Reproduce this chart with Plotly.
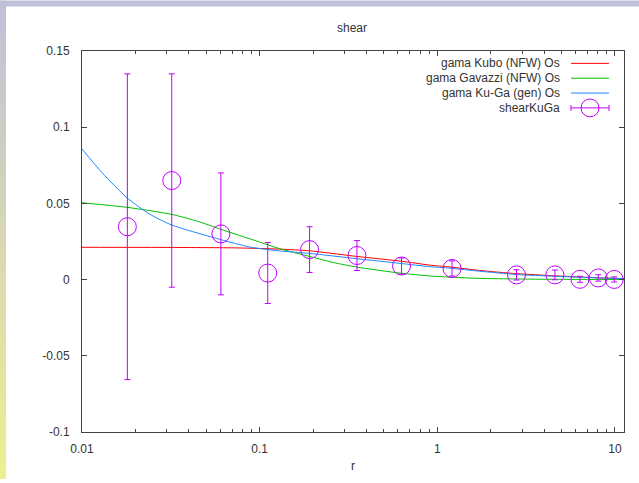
import plotly.graph_objects as go

# ---------------- data ----------------
r_kubo = [0.01, 0.032, 0.0742, 0.1296, 0.191, 0.353, 0.623, 0.907, 1.175, 1.734, 2.8, 4.59, 8.23, 11.2]
g_kubo = [0.0212, 0.0211, 0.0208, 0.0200, 0.0189, 0.0152, 0.0121, 0.0095, 0.0083, 0.0060, 0.0039, 0.0025, 0.0011, 0.0006]

r_gav = [0.01, 0.018, 0.032, 0.045, 0.0605, 0.0878, 0.1296, 0.191, 0.26, 0.353, 0.623, 0.907, 1.175, 1.734, 2.8, 4.59, 11.2]
g_gav = [0.0504, 0.0474, 0.0428, 0.0382, 0.0330, 0.0268, 0.0203, 0.0152, 0.0112, 0.0082, 0.0042, 0.0024, 0.0016, 0.0008, 0.0004, 0.0002, 0.0001]

r_kuga = [0.01, 0.013, 0.018, 0.024, 0.032, 0.0605, 0.0878, 0.1296, 0.191, 0.353, 0.623, 0.907, 1.175, 1.734, 2.8, 4.59, 8.23, 11.2]
g_kuga = [0.0857, 0.0700, 0.0535, 0.0430, 0.0358, 0.0262, 0.0214, 0.0188, 0.0172, 0.0137, 0.0106, 0.0085, 0.0075, 0.0055, 0.0033, 0.0022, 0.0011, 0.0007]

r_obs = [0.018, 0.032, 0.0605, 0.111, 0.191, 0.353, 0.629, 1.21, 2.79, 4.59, 6.35, 8.05, 9.9]
g_obs = [0.0347, 0.065, 0.030, 0.0043, 0.0197, 0.0158, 0.0089, 0.0073, 0.0031, 0.0031, 0.0002, 0.0011, 0.0001]
e_obs = [0.1003, 0.070, 0.040, 0.020, 0.015, 0.0098, 0.0053, 0.0050, 0.0034, 0.0032, 0.0020, 0.0021, 0.0017]

legend_names = ["gama Kubo (NFW) Os", "gama Gavazzi (NFW) Os", "gama Ku-Ga (gen) Os", "shearKuGa"]
xtick_vals = [0.01, 0.1, 1, 10]
xtick_text = ["0.01", "0.1", "1", "10"]
ytick_vals = [-0.1, -0.05, 0, 0.05, 0.1, 0.15]
ytick_text = ["-0.1", "-0.05", "0", "0.05", "0.1", "0.15"]

RED, GREEN, BLUE, VIOLET = "#ff0000", "#00c000", "#1a88ff", "#c000ff"

# ---------------- layout geometry ----------------
W, H = 639, 483
L, R, T, B = 82, 15, 51, 47
PW, PH = W - L - R, H - T - B
BOT = T + PH

def px(x):
    return (x - L) / PW

def py(y):
    return (BOT - y) / PH

fig = go.Figure()
for rr, gg, col in [(r_kubo, g_kubo, RED), (r_gav, g_gav, GREEN), (r_kuga, g_kuga, BLUE)]:
    fig.add_trace(go.Scatter(x=rr, y=gg, mode="lines", showlegend=False,
                             line=dict(color=col, width=1, shape="spline", smoothing=0.6),
                             hoverinfo="skip"))

fig.add_trace(go.Scatter(x=r_obs, y=g_obs, mode="markers", showlegend=False,
                         marker=dict(symbol="circle-open", size=18, color=VIOLET, line=dict(width=1, color=VIOLET)),
                         error_y=dict(type="data", array=e_obs, visible=True, color=VIOLET, thickness=1, width=3)))

minor_vals = [m * 10 ** e for e in (-2, -1, 0, 1) for m in range(2, 10)]

axis_common = dict(showline=True, linecolor="#444", linewidth=1, mirror="ticks",
                   ticks="inside", ticklen=5, tickwidth=1, tickcolor="#444",
                   showgrid=False, zeroline=False,
                   tickfont=dict(family="Liberation Sans", size=12, color="#333"))

fig.update_xaxes(type="log", range=[-2, 1.0507], tickmode="array", tickvals=xtick_vals, ticktext=xtick_text,
                 minor=dict(tickmode="array", tickvals=minor_vals, ticks="inside", ticklen=3, tickcolor="#444", showgrid=False),
                 title=dict(text="r", font=dict(family="Liberation Sans", size=12, color="#333"), standoff=6),
                 ticklabelstandoff=6, **axis_common)
fig.update_yaxes(range=[-0.1, 0.15], tickmode="array", tickvals=ytick_vals, ticktext=ytick_text,
                 ticklabelstandoff=9, **axis_common)

# ---------------- background frame ----------------
shapes = []
top_c = (192, 192, 216)
bot_c = (238, 238, 144)
N = 60
for i in range(N):
    t = i / (N - 1)
    c = tuple(int(round(top_c[k] + (bot_c[k] - top_c[k]) * t)) for k in range(3))
    y0 = H * i / N
    y1 = H * (i + 1) / N
    shapes.append(dict(type="rect", xref="paper", yref="paper", x0=px(0), x1=px(6), y0=py(y1) - 0.001, y1=py(y0),
                       fillcolor="rgb(%d,%d,%d)" % c, line=dict(width=0), layer="below"))
shapes.append(dict(type="rect", xref="paper", yref="paper", x0=px(0), x1=px(W), y0=py(6), y1=py(0),
                   fillcolor="rgb(192,192,216)", line=dict(width=0), layer="below"))

# ---------------- manual key (gnuplot style) ----------------
annotations = []
rows = [63.5, 78.5, 93.5, 108.5]
cols = [RED, GREEN, BLUE, VIOLET]
for i, (name, yy) in enumerate(zip(legend_names, rows)):
    annotations.append(dict(xref="paper", yref="paper", x=px(562), y=py(yy), text=name, showarrow=False,
                            xanchor="right", yanchor="middle",
                            font=dict(family="Liberation Sans", size=12, color="#333")))
    shapes.append(dict(type="line", xref="paper", yref="paper", x0=px(571), x1=px(609), y0=py(yy), y1=py(yy),
                       line=dict(color=cols[i], width=1)))
yy = rows[3]
for xc in (571, 609):
    shapes.append(dict(type="line", xref="paper", yref="paper", x0=px(xc), x1=px(xc), y0=py(yy - 3), y1=py(yy + 3),
                       line=dict(color=VIOLET, width=1)))
shapes.append(dict(type="circle", xref="paper", yref="paper", x0=px(590 - 9), x1=px(590 + 9),
                   y0=py(yy + 9), y1=py(yy - 9), line=dict(color=VIOLET, width=1)))

fig.update_layout(
    width=W, height=H, margin=dict(l=L, r=R, t=T, b=B, pad=0),
    paper_bgcolor="white", plot_bgcolor="white",
    title=dict(text="shear", x=px(352), xref="paper", y=1 - 28 / H, yref="container", yanchor="middle", xanchor="center",
               font=dict(family="Liberation Sans", size=12, color="#333")),
    shapes=shapes, annotations=annotations, showlegend=False,
)

fig.write_html("out.html", config={"displayModeBar": False},
               post_script="document.body.style.margin='0';document.body.style.overflow='hidden';")
